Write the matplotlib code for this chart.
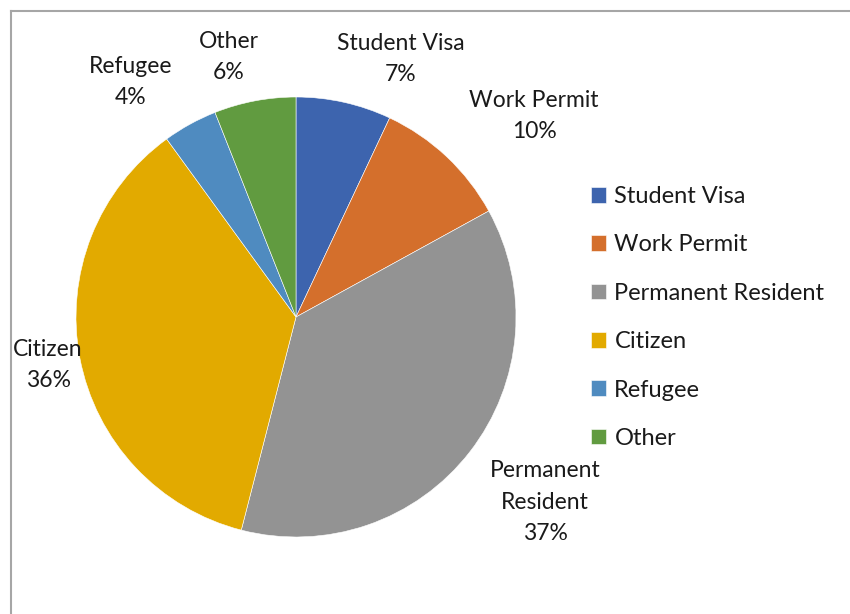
import matplotlib.pyplot as plt
from matplotlib.lines import Line2D

plt.rcParams["font.family"] = ["Lato", "DejaVu Sans"]

# Residency status breakdown (percent)
categories = ["Student Visa", "Work Permit", "Permanent Resident",
              "Citizen", "Refugee", "Other"]
shares = [7, 10, 37, 36, 4, 6]
label_lines = ["Student Visa", "Work Permit", "Permanent\nResident",
               "Citizen", "Refugee", "Other"]

colors = ["#3D64AE", "#D46F2C", "#939393", "#E2AA00", "#4F8BC0", "#619B40"]
# label block centres, in units of the pie radius
label_pos = [(0.477, 1.173), (1.082, 0.914), (1.132, -0.841),
             (-1.127, -0.218), (-0.75, 1.068), (-0.305, 1.182)]

W, H = 850, 614
fig = plt.figure(figsize=(W / 100, H / 100), dpi=100)
fig.patch.set_facecolor("white")

# pie occupies a 440 px square centred at (296, 317)
cx, cy, r = 296, 317, 220
ax = fig.add_axes([(cx - r) / W, (H - cy - r) / H, 2 * r / W, 2 * r / H])
wedges, _ = ax.pie(shares, colors=colors, startangle=90, counterclock=False,
                   radius=1, wedgeprops=dict(edgecolor="white", linewidth=0.4))
ax.set_xlim(-1, 1)
ax.set_ylim(-1, 1)
ax.set_aspect("equal")
ax.axis("off")

for txt, val, (lx, ly) in zip(label_lines, shares, label_pos):
    ax.text(lx, ly, f"{txt}\n{val}%", ha="center", va="center",
            fontsize=16.5, color="#1a1a1a", linespacing=1.62, clip_on=False)

fig.legend(wedges, categories, loc="upper left",
           bbox_to_anchor=(591 / W, (H - 186) / H), frameon=False,
           fontsize=17, handlelength=0.64, handleheight=0.64,
           handletextpad=0.35, labelspacing=1.16, borderpad=0,
           borderaxespad=0, labelcolor="#1a1a1a")

# chart frame (left and top edges visible)
fig.add_artist(Line2D([11 / W, 11 / W], [0, (H - 11) / H],
                      color="#A6A6A6", linewidth=1.5))
fig.add_artist(Line2D([11 / W, 1], [(H - 11) / H, (H - 11) / H],
                      color="#A6A6A6", linewidth=1.5))

fig.savefig("out.png", dpi=100)
